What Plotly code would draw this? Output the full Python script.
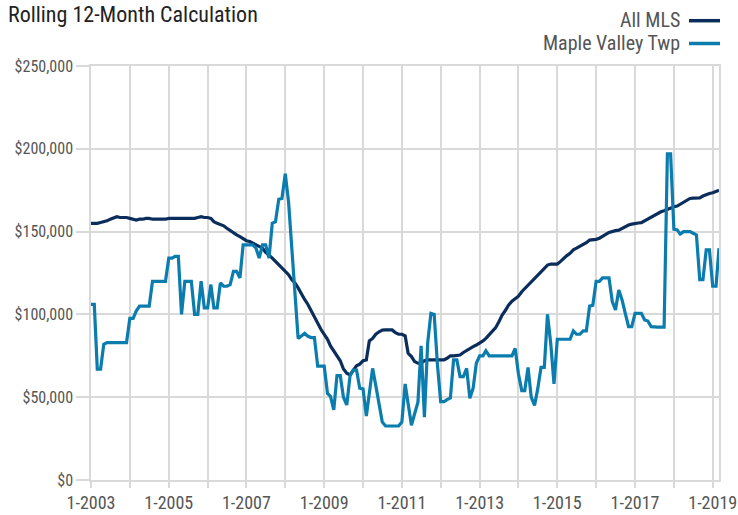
import plotly.graph_objects as go
import pandas as pd

dates = pd.date_range("2003-01-01", "2019-03-01", freq="MS")

all_mls = [
    155, 155, 155, 155.5, 156, 156.5, 157.5, 158.5, 159, 158.5, 158.5, 158.5,
    158, 157.5, 157, 157.5, 157.5, 158, 158, 157.5, 157.5, 157.5, 157.5, 157.5,
    158, 158, 158, 158, 158, 158, 158, 158, 158, 158.5, 159, 158.5,
    158.5, 158, 156, 155, 154.5, 153.5, 152, 150.5, 149.5, 148, 147, 145.5,
    144.5, 144, 143, 142, 141, 140, 137.5, 136, 134, 132, 130, 128,
    126, 124, 121, 119, 116, 112, 109, 106, 102, 98, 94, 91,
    88, 85, 81, 78, 75.5, 72, 67, 64.5, 63.5, 66, 69, 70,
    72, 72.5, 84, 85.5, 88, 89.5, 90.5, 90.6, 90.6, 90.6, 89, 88,
    88, 87, 76.5, 74.5, 71.5, 70.5, 70.5, 72, 72.5, 72.5, 72.5, 72.5,
    72.5, 72.5, 73.5, 75, 75, 75.5, 75.5, 77, 78, 79.5, 80.5, 81.5,
    82.5, 84, 85.5, 87.5, 89.6, 92, 95.6, 99.6, 102.5, 105.7, 108, 109.7,
    111, 113.7, 115.5, 117.7, 120, 121.8, 123.5, 125.8, 128, 129.8, 130.4, 130.4,
    130.4, 132, 133.9, 135.5, 136.9, 139, 140, 141, 141.9, 143.3, 144.9, 145,
    145.3, 146, 146.9, 148.3, 149.5, 150.3, 150.6, 150.9, 152, 153.4, 154, 154.5,
    155, 155.2, 155.4, 156.5, 158, 159, 160, 161, 162, 162.6, 163.5, 164.4,
    165, 165.4, 166.5, 168, 169, 170, 170.2, 170.3, 170.4, 171.5, 172.5, 173,
    173.5, 174.5, 175,
]

maple_valley = [
    106, 106, 67, 67, 82, 83, 83, 83, 83, 83, 83, 83,
    97.6, 97.6, 102, 105, 105, 105, 105, 120, 120, 120, 120, 120,
    134, 134, 135, 135, 100, 120, 120, 120, 100, 100, 120, 104,
    104, 118, 104, 104, 119, 117, 117, 118, 126, 126, 122, 142,
    142, 142, 142, 140, 134, 142, 142, 134, 155, 156, 169.5, 170,
    185, 168, 140, 111, 85.5, 87, 88.5, 86.8, 86, 86, 68.8, 68.8,
    68.8, 52.3, 50.5, 42.3, 63, 63, 50, 45.3, 63, 66.4, 66.4, 55.4,
    55, 38.6, 53, 67.4, 57, 46, 35, 32.6, 32.6, 32.6, 32.6, 32.6,
    35, 58, 46, 33, 40, 47, 81, 38, 83, 100.6, 100, 70,
    47.3, 47.3, 48.5, 49.5, 72.5, 72.5, 62.4, 62.4, 67.4, 49.3, 55.4, 70.5,
    75, 75, 78, 75, 75, 75, 75, 75, 75, 75, 75, 79.5,
    64, 54, 54, 68, 50, 45, 55, 68, 68, 100, 82, 58,
    85, 85, 85, 85, 85, 90, 88, 88, 90, 90, 105, 105.5,
    120, 120, 122, 122, 122, 107.7, 102.7, 114.7, 108.7, 100.6, 92.6, 92.6,
    100.6, 100.6, 100.6, 96.6, 96, 92.6, 92.3, 92.3, 92.3, 92.3, 197, 197,
    151.4, 151, 148.5, 150, 150, 150, 149, 148, 121, 121, 139, 139,
    117, 117, 140,
]

series_names = ["All MLS", "Maple Valley Twp"]
series_colors = ["#0b2d5b", "#0a7cae"]

year_ticks = pd.date_range("2003-01-01", "2019-01-01", freq="YS")
tick_labels = [f"1-{d.year}" if (d.year - 2003) % 2 == 0 else "" for d in year_ticks]

y_ticks = [0, 50000, 100000, 150000, 200000, 250000]
y_labels = [f"${v:,.0f}" for v in y_ticks]

FONT = "Roboto Condensed, Liberation Sans Narrow, DejaVu Sans Condensed, Arial Narrow, sans-serif"

W, H = 738, 515
PL, PR, PT, PB = 91, 719, 66, 480  # plot area in window pixels
PW, PH = PR - PL, PB - PT


def px(x):
    return (x - PL) / PW


def py(y):
    return (PB - y) / PH


fig = go.Figure()
for name, vals, col in [(series_names[0], all_mls, series_colors[0]),
                        (series_names[1], maple_valley, series_colors[1])]:
    fig.add_trace(go.Scatter(
        x=dates, y=[v * 1000 for v in vals], mode="lines", name=name,
        line=dict(color=col, width=3.2), showlegend=False,
    ))

fig.update_layout(
    width=W, height=H,
    margin=dict(l=PL, r=W - PR, t=PT, b=H - PB, autoexpand=False),
    plot_bgcolor="white", paper_bgcolor="white",
    font=dict(family=FONT, color="#555555", size=16),
    xaxis=dict(
        range=[dates[0], dates[-1]], tickvals=list(year_ticks), ticktext=tick_labels,
        showgrid=True, gridcolor="#d9d9d9", gridwidth=1.5,
        ticks="outside", ticklen=6, tickcolor="#d9d9d9", tickwidth=1.5,
        showline=True, linecolor="#d9d9d9", linewidth=1.5, mirror=True,
        zeroline=False, automargin=False,
        tickfont=dict(size=18, color="#555555"),
    ),
    yaxis=dict(
        range=[0, 250000], tickvals=y_ticks, ticktext=y_labels,
        showgrid=True, gridcolor="#d9d9d9", gridwidth=1.5,
        ticks="outside", ticklen=13, tickcolor="#d9d9d9", tickwidth=1.5,
        showline=True, linecolor="#d9d9d9", linewidth=1.5, mirror=True,
        zeroline=False, automargin=False,
        tickfont=dict(size=16, color="#555555"),
    ),
)

fig.add_annotation(
    text="Rolling 12-Month Calculation", xref="paper", yref="paper",
    x=px(6), y=py(14), xanchor="left", yanchor="middle",
    showarrow=False, font=dict(size=22, color="#222222", family=FONT),
)

legend_text_y = [20, 43]
legend_line_y = [20.7, 43.5]
for i, (name, col) in enumerate(zip(series_names, series_colors)):
    fig.add_annotation(
        text=name, xref="paper", yref="paper",
        x=px(682), y=py(legend_text_y[i]), xanchor="right", yanchor="middle",
        showarrow=False, font=dict(size=20, color="#555555", family=FONT),
    )
    fig.add_shape(
        type="line", xref="paper", yref="paper",
        x0=px(689), x1=px(720), y0=py(legend_line_y[i]), y1=py(legend_line_y[i]),
        line=dict(color=col, width=3.5),
    )

fig.write_html(
    "out.html",
    config={"displayModeBar": False},
    post_script="document.body.style.margin='0';document.body.style.padding='0';"
                "document.body.style.overflow='hidden';",
)
